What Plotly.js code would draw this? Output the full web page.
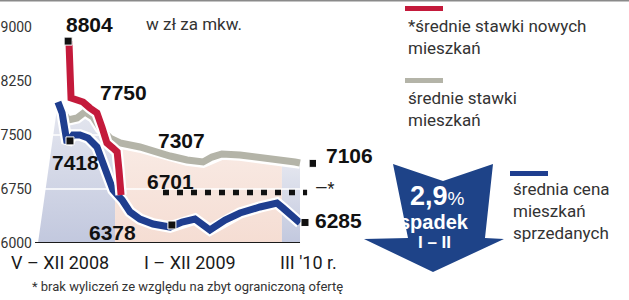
<!DOCTYPE html>
<html><head><meta charset="utf-8">
<script src="https://cdn.plot.ly/plotly-3.0.1.min.js"></script>
<style>html,body{margin:0;padding:0;background:#fff}#chart{width:629px;height:300px}</style>
</head><body><div id="chart"></div>
<script>
// x = position along the time axis (0 = start of V 2008 panel, 100 = end of III 2010)
const redX  = [11.8, 12.6, 14.9, 17.2, 19.8, 22.5, 24.4, 26.3, 28.6, 30.2, 30.9, 31.7];
const redY  = [8804, 8014, 7986, 7958, 7875, 7806, 7611, 7389, 7319, 7264, 7014, 6667];
const grayX = [9.5, 11.5, 14.9, 17.9, 21.0, 23.7, 27.5, 31.3, 38.9, 44.7, 50.4, 56.9, 63.0, 66.4, 70.2, 77.1, 84.7, 92.4, 98.1, 100];
const grayY = [7819, 7708, 7736, 7819, 7750, 7597, 7458, 7389, 7333, 7264, 7208, 7153, 7125, 7194, 7236, 7222, 7194, 7167, 7125, 7111];
const blueX = [7.6, 9.2, 11.1, 13.4, 16.0, 19.1, 22.5, 24.8, 26.7, 28.6, 32.1, 35.1, 38.9, 43.9, 50.4, 55.0, 59.9, 65.6, 71.4, 77.1, 84.7, 91.2, 93.5, 97.3, 100];
const blueY = [7958, 7806, 7389, 7500, 7500, 7458, 7333, 7125, 6917, 6736, 6597, 6431, 6333, 6264, 6222, 6292, 6333, 6181, 6319, 6417, 6500, 6556, 6486, 6347, 6278];
const avgNewX = [47.7, 102.7];
const avgNewY = [6701, 6701];
const markX = [11.5, 12.2, 51.1, 101.9, 105.0];
const markY = [8804, 7418, 6250, 6285, 7106];
const valueLabels = ['8804', '7750', '7418', '7307', '6701', '6378', '7106', '6285'];
const periodLabels = ['V – XII 2008', 'I – XII 2009', "III '10 r."];
const periodStarts = [0, 29.4, 93.1, 100];
const yTicks = [6000, 6750, 7500, 8250, 9000];
const legendLabels = ['*średnie stawki nowych<br>mieszkań', 'średnie stawki<br>mieszkań', 'średnia cena<br>mieszkań<br>sprzedanych'];
const seriesColors = ['#c41a3b', '#b4b4a8', '#1f3e8f'];

// ---- helpers ----
const L = 35, R = 316, T = 20, B = 243;
const unitPx = 2.62;
const xMin = -1.15, xMax = xMin + (R - L) / unitPx;
const px = x => (x - L) / (R - L);
const py = y => (B - y) / (B - T);
function interp(xs, ys, x) {
  for (let i = 0; i < xs.length - 1; i++) {
    if (x >= xs[i] && x <= xs[i + 1]) {
      const t = (x - xs[i]) / (xs[i + 1] - xs[i]);
      return ys[i] + t * (ys[i + 1] - ys[i]);
    }
  }
  return ys[ys.length - 1];
}
function region(x0, x1, lead) {
  const xs = [x0], ys = [6000];
  if (lead) { xs.push(lead[0]); ys.push(lead[1]); }
  else { xs.push(x0); ys.push(interp(grayX, grayY, x0)); }
  grayX.forEach((x, i) => { if (x > x0 && x < x1) { xs.push(x); ys.push(grayY[i]); } });
  xs.push(x1); ys.push(interp(grayX, grayY, x1));
  xs.push(x1); ys.push(6000);
  xs.push(x0); ys.push(6000);
  return {xs, ys};
}
const r08 = region(periodStarts[0], periodStarts[1], [blueX[0], blueY[0]]);
const r09 = region(periodStarts[1], periodStarts[2]);
const r10 = region(periodStarts[2], periodStarts[3]);

const traces = [];
const blueGrad = {type: 'vertical', colorscale: [[0, '#c2c8de'], [1, '#e6e8f0']]};
traces.push({x: r08.xs, y: r08.ys, mode: 'lines', fill: 'toself', line: {width: 0}, fillcolor: '#d3d7e6', fillgradient: blueGrad, hoverinfo: 'skip'});
traces.push({x: r09.xs, y: r09.ys, mode: 'lines', fill: 'toself', line: {width: 0}, fillcolor: '#f7e4dc', fillgradient: {type: 'vertical', colorscale: [[0, '#f5ddd3'], [1, '#f9ebe5']]}, hoverinfo: 'skip'});
traces.push({x: r10.xs, y: r10.ys, mode: 'lines', fill: 'toself', line: {width: 0}, fillcolor: '#d3d7e6', fillgradient: blueGrad, hoverinfo: 'skip'});
// white grid lines inside the shaded area
[6750, 7500].forEach(v => traces.push({x: [0, 100], y: [v, v], mode: 'lines', line: {color: '#ffffff', width: 1.5}, hoverinfo: 'skip'}));

function series(xs, ys, color) {
  traces.push({x: xs, y: ys, mode: 'lines', line: {color: '#ffffff', width: 11.5}, hoverinfo: 'skip'});
  traces.push({x: xs, y: ys, mode: 'lines', line: {color: color, width: 7}, hoverinfo: 'skip'});
}
series(grayX, grayY, seriesColors[1]);
series(blueX, blueY, seriesColors[2]);
series(redX, redY, seriesColors[0]);
traces.push({x: avgNewX, y: avgNewY, mode: 'lines', line: {color: '#111', width: 5.5, dash: '6px,8px'}, hoverinfo: 'skip'});
traces.push({x: markX, y: markY, mode: 'markers', marker: {symbol: 'square', size: 8, color: '#111', line: {color: '#fff', width: 1}}, hoverinfo: 'skip'});

const numFont = {family: 'Liberation Sans, Arial, sans-serif', size: 21, color: '#111', weight: 'bold'};
const txtFont = {family: 'Roboto, sans-serif', size: 17, color: '#333'};
const ann = (cx, cy, text, font, extra) => Object.assign({xref: 'paper', yref: 'paper', x: px(cx), y: py(cy), xanchor: 'center', yanchor: 'middle', text: text, showarrow: false, font: font}, extra || {});

const valuePos = [[89, 24], [123, 93], [75, 162], [181, 140], [170, 181], [112, 232], [349, 155], [338, 220]];
const annotations = valueLabels.map((t, i) => ann(valuePos[i][0], valuePos[i][1], '<b>' + t + '</b>', numFont));
annotations.push(ann(324, 188, '—*', {family: 'Roboto, sans-serif', size: 16, color: '#222'}));
annotations.push(ann(194, 24, 'w zł za mkw.', txtFont));
const periodPos = [60, 190, 308];
periodLabels.forEach((t, i) => annotations.push(ann(periodPos[i], 262, t, {family: 'Roboto, sans-serif', size: 18, color: '#1a1a1a'})));
annotations.push(ann(187, 286, '* brak wyliczeń ze względu na zbyt ograniczoną ofertę', {family: 'Roboto, sans-serif', size: 13, color: '#333'}));
const legPos = [[406, 36.5], [406, 108.5], [511, 210.5]];
legendLabels.forEach((t, i) => annotations.push(ann(legPos[i][0], legPos[i][1], t, txtFont, {xanchor: 'left', align: 'left'})));
annotations.push(ann(437, 196, '<b>2,9</b><span style="font-size:19px">%</span>', {family: 'Liberation Sans, Arial, sans-serif', size: 27, color: '#fff'}));
annotations.push(ann(434, 222, '<b>spadek</b>', {family: 'Liberation Sans, Arial, sans-serif', size: 20, color: '#fff'}));
annotations.push(ann(434, 242, 'I – II', {family: 'Liberation Sans, Arial, sans-serif', size: 17, color: '#fff', weight: 'bold'}));

const pt = (x, y) => px(x).toFixed(4) + ',' + py(y).toFixed(4);
const arrowPath = 'M' + pt(393, 164) + ' L' + pt(443, 181) + ' L' + pt(493, 164) + ' L' + pt(485, 238) + ' L' + pt(504, 239) + ' L' + pt(433, 272) + ' L' + pt(364, 239) + ' L' + pt(408, 238) + ' Z';
const shapes = [
  {type: 'line', xref: 'x', yref: 'y', x0: xMin, x1: 100, y0: 6000, y1: 6000, line: {color: '#1a1a1a', width: 2}, layer: 'above'},
  {type: 'line', xref: 'paper', yref: 'paper', x0: px(0), x1: px(629), y0: py(0.7), y1: py(0.7), line: {color: '#8a8a8a', width: 1.5}},
  {type: 'path', xref: 'paper', yref: 'paper', path: arrowPath, fillcolor: '#1e4388', line: {width: 0}},
  {type: 'rect', xref: 'paper', yref: 'paper', x0: px(405), x1: px(443), y0: py(6), y1: py(11), fillcolor: seriesColors[0], line: {width: 0}},
  {type: 'rect', xref: 'paper', yref: 'paper', x0: px(405), x1: px(443), y0: py(78), y1: py(83), fillcolor: seriesColors[1], line: {width: 0}},
  {type: 'rect', xref: 'paper', yref: 'paper', x0: px(510), x1: px(548), y0: py(171), y1: py(176), fillcolor: seriesColors[2], line: {width: 0}}
];

const layout = {
  width: 629, height: 300,
  margin: {l: L, r: 629 - R, t: T, b: 300 - B, pad: 0},
  paper_bgcolor: '#fff', plot_bgcolor: 'rgba(0,0,0,0)',
  showlegend: false,
  xaxis: {range: [xMin, xMax], showgrid: false, zeroline: false, showticklabels: false, ticks: '', showline: false, fixedrange: true},
  yaxis: {range: [6000, 6000 + (B - T) / 0.072], tickvals: yTicks, ticktext: yTicks.map(String), showgrid: false, zeroline: false, showline: false, ticks: '', ticklabelstandoff: 2,
          tickfont: {family: 'Roboto, sans-serif', size: 14, color: '#333'}, fixedrange: true},
  annotations: annotations,
  shapes: shapes
};
Plotly.newPlot('chart', traces, layout, {displayModeBar: false, staticPlot: true});
</script></body></html>
